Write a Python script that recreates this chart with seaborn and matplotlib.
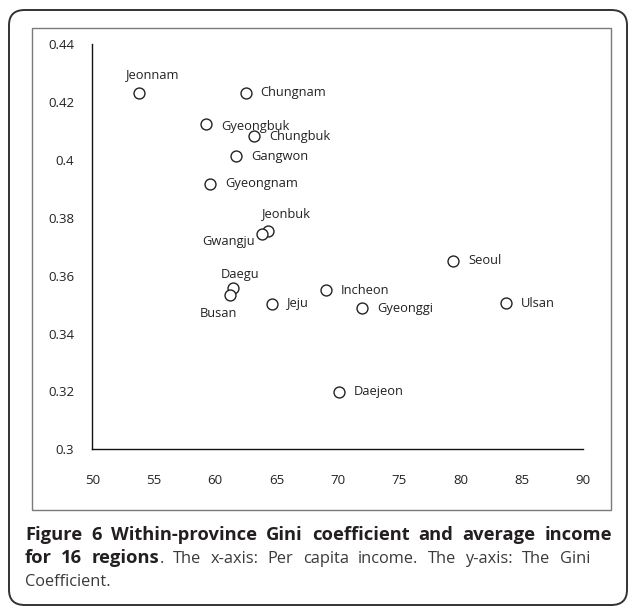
import matplotlib
matplotlib.use("Agg")
import matplotlib.pyplot as plt
import seaborn as sns
import pandas as pd
from matplotlib.patches import FancyBboxPatch, Rectangle

# ---- data ----
regions = ["Jeonnam", "Chungnam", "Gyeongbuk", "Chungbuk", "Gangwon", "Gyeongnam",
           "Jeonbuk", "Gwangju", "Seoul", "Daegu", "Busan", "Jeju", "Incheon",
           "Gyeonggi", "Ulsan", "Daejeon"]
income = [53.8, 62.5, 59.3, 63.2, 61.7, 59.6, 64.3, 63.8, 79.4, 61.5, 61.2, 64.6,
          69.0, 72.0, 83.7, 70.1]
gini = [0.423, 0.4232, 0.4124, 0.4084, 0.4013, 0.3918, 0.3755, 0.3745, 0.3652,
        0.3557, 0.3535, 0.3503, 0.3549, 0.3489, 0.3505, 0.3199]
x_ticks = [50, 55, 60, 65, 70, 75, 80, 85, 90]
y_ticks = [0.30, 0.32, 0.34, 0.36, 0.38, 0.40, 0.42, 0.44]
y_ticklabels = ["0.3", "0.32", "0.34", "0.36", "0.38", "0.4", "0.42", "0.44"]

# label placement (pixel offsets, alignment) - styling only
label_pos = {
    "Jeonnam": (14, 19, "center", "center"),
    "Chungnam": (15, 0, "left", "center"),
    "Gyeongbuk": (15, -2, "left", "center"),
    "Chungbuk": (15, -1, "left", "center"),
    "Gangwon": (15, 0, "left", "center"),
    "Gyeongnam": (15, 0, "left", "center"),
    "Jeonbuk": (19, 17, "center", "center"),
    "Gwangju": (-7, -8, "right", "center"),
    "Seoul": (15, 0, "left", "center"),
    "Daegu": (7, 14, "center", "center"),
    "Busan": (-11, -19, "center", "center"),
    "Jeju": (15, 0, "left", "center"),
    "Incheon": (15, 0, "left", "center"),
    "Gyeonggi": (15, -1, "left", "center"),
    "Ulsan": (15, 0, "left", "center"),
    "Daejeon": (15, 0, "left", "center"),
}

df = pd.DataFrame({"region": regions, "income": income, "gini": gini})

sns.set_style("white")
plt.rcParams["font.family"] = ["Open Sans", "DejaVu Sans"]

W, H = 629, 607
fig = plt.figure(figsize=(W / 100, H / 100), dpi=100)
fig.patch.set_facecolor("white")

# outer rounded frame
outer = FancyBboxPatch((9 / W, 1 - 605 / H), (627 - 9) / W, (605 - 10) / H,
                       boxstyle="round,pad=0,rounding_size=0.025",
                       transform=fig.transFigure, facecolor="none",
                       edgecolor="#333333", linewidth=1.4, zorder=0)
fig.patches.append(outer)
# inner chart frame
inner = Rectangle((32 / W, 1 - 510 / H), (611 - 32) / W, (510 - 28) / H,
                  transform=fig.transFigure, facecolor="none",
                  edgecolor="#7a7a7a", linewidth=1.0, zorder=0)
fig.patches.append(inner)

ax = fig.add_axes([92.3 / W, 1 - 449.3 / H, 491 / W, 405 / H])
ax.set_facecolor("none")
sns.scatterplot(data=df, x="income", y="gini", ax=ax, marker="o", s=62,
                facecolor="white", edgecolor="#222222", linewidth=1.0,
                legend=False, zorder=3)

for r, xv, yv in zip(regions, income, gini):
    dx, dy, ha, va = label_pos[r]
    ax.annotate(r, (xv, yv), xytext=(dx, dy), textcoords="offset pixels",
                ha=ha, va=va, fontsize=9.3, color="#222222")

ax.set_xlim(50, 90)
ax.set_ylim(0.30, 0.44)
ax.set_xticks(x_ticks)
ax.set_xticklabels([str(v) for v in x_ticks])
ax.set_yticks(y_ticks)
ax.set_yticklabels(y_ticklabels)
ax.set_xlabel("")
ax.set_ylabel("")
for s in ["top", "right"]:
    ax.spines[s].set_visible(False)
for s in ["left", "bottom"]:
    ax.spines[s].set_color("#111111")
    ax.spines[s].set_linewidth(1.0)
ax.tick_params(axis="both", direction="out", length=4, width=1.0,
               color="#111111", labelsize=9.5, labelcolor="#222222")
ax.tick_params(axis="x", pad=14)
ax.tick_params(axis="y", pad=9)

# ---- caption (justified, word by word) ----
BOLD = dict(fontsize=13.2, fontweight="bold", color="#231f20")
REG = dict(fontsize=11.8, fontweight="normal", color="#3a3a3a")

renderer = fig.canvas.get_renderer()


def place_line(words, x0, x1, baseline):
    # words: list of list of (text, props); pixel coords from top-left
    made = []
    widths = []
    for w in words:
        pieces = []
        wsum = 0.0
        for txt, props in w:
            t = fig.text(0, 1 - baseline / H, txt, va="baseline", ha="left", **props)
            bb = t.get_window_extent(renderer)
            pieces.append((t, bb.width))
            wsum += bb.width
        made.append(pieces)
        widths.append(wsum)
    if x1 is None or len(words) < 2:
        gap = 4.0
    else:
        gap = (x1 - x0 - sum(widths)) / (len(words) - 1)
    x = x0
    for pieces, wsum in zip(made, widths):
        xx = x
        for t, wd in pieces:
            t.set_x(xx / W)
            xx += wd
        x += wsum + gap


line1 = "Figure 6 Within-province Gini coefficient and average income".split()
place_line([[(w, BOLD)] for w in line1], 25, 612, 540.5)

line2 = [[("for", BOLD)], [("16", BOLD)], [("regions", BOLD), (".", REG)]]
line2 += [[(w, REG)] for w in
          "The x-axis: Per capita income. The y-axis: The Gini".split()]
place_line(line2, 25, 590, 563)

place_line([[("Coefficient.", REG)]], 25, None, 585.5)

fig.savefig("out.png", dpi=100, facecolor="white")
plt.close("all")
